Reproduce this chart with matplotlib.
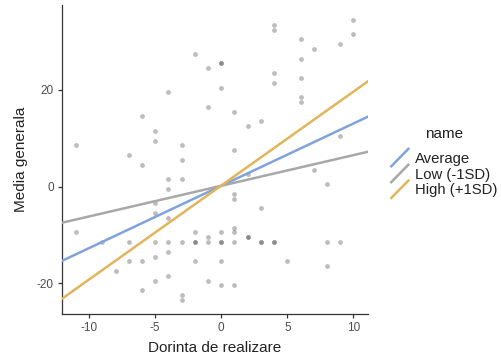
"""
Moderation plot: Media generala vs Dorinta de realizare, with simple slopes.
"""

import matplotlib
matplotlib.use("Agg")
import matplotlib.pyplot as plt
from matplotlib.lines import Line2D
from matplotlib.legend_handler import HandlerBase


# raw observations (x = Dorinta de realizare, y = Media generala)
X_VALUES = [
    -11, -6, -5, -5, -7, -4,
    -2, 0, 0, -1, 0, -1, 1, 2, 3, -3, 1, -3,
    4, 4, 6, 10, 10, 9, 7, 6, 4, 4, 6, 6, 6, 9,
    -6, -4, -4, -5, -5, -11, -9, -7, -5, -4, -7, -6, -5, -8, -5, -6, -4,
    -3, 2, 1, 1, 3, -4, -2, -1, 0, 1, 1, -4, -3, -2, -2, -1, 0, 0, 1,
    2, 2, 3, 3, -2, 0, -1, 0, 1, -3, -3,
    7, 8, 4, 4, 8, 9, 5, 8,
]
Y_VALUES = [
    8.5, 14.5, 11.5, 9.5, 6.5, 19.5,
    27.5, 25.5, 25.5, 24.5, 20.5, 16.5, 15.5, 12.5, 13.5, 8.5, 7.5, 5.5,
    33.5, 32.5, 30.5, 34.5, 31.5, 29.5, 28.5, 26.5, 23.5, 21.5, 22.5, 18.5, 17.5, 10.5,
    4.5, 1.5, -0.5, -3.5, -5.5, -9.5, -11.5, -11.5, -11.5, -13.5, -15.5, -15.5, -14.5,
    -17.5, -19.5, -21.5, -18.5,
    1.5, 2.5, -1.5, -2.5, -4.5, -6.5, -9.5, -10.5, -9.5, -8.5, -9.5, -11.5, -11.5,
    -11.5, -11.5, -11.5, -11.5, -11.5, -11.5,
    -10.5, -10.5, -11.5, -11.5, -15.5, -15.5, -19.5, -20.5, -20.5, -22.5, -23.5,
    3.5, 0.5, -11.5, -11.5, -11.5, -11.5, -15.5, -16.5,
]

# simple slopes of the moderator levels
LINE_NAMES = ["Average", "Low (-1SD)", "High (+1SD)"]
LINE_SLOPES = [1.29, 0.635, 1.945]
LINE_INTERCEPTS = [0.15, 0.15, 0.2]
LINE_COLORS = ["#80A3DC", "#A8A8A8", "#E2B55C"]


class DiagonalKey(HandlerBase):
    """ggplot-style diagonal legend key for abline layers."""

    def create_artists(self, legend, orig_handle, xdescent, ydescent,
                       width, height, fontsize, trans):
        line = Line2D([-xdescent, -xdescent + width],
                      [-ydescent - 2, -ydescent + height + 2],
                      color=orig_handle.get_color(),
                      linewidth=orig_handle.get_linewidth(),
                      transform=trans)
        return [line]


def main():
    plt.rcParams["font.family"] = ["Liberation Sans", "DejaVu Sans"]
    plt.rcParams["axes.unicode_minus"] = False

    fig = plt.figure(figsize=(5.01, 3.64), dpi=100)
    ax = fig.add_axes([0.1238, 0.1374, 0.6107, 0.849])

    ax.scatter(X_VALUES, Y_VALUES, s=12, color="black", alpha=0.26,
               linewidths=0, zorder=2)

    handles = []
    for name, slope, icpt, color in zip(LINE_NAMES, LINE_SLOPES,
                                        LINE_INTERCEPTS, LINE_COLORS):
        ax.axline((0, icpt), slope=slope, color=color, linewidth=1.8,
                  zorder=3)
        handles.append(Line2D([], [], color=color, linewidth=1.8,
                              label=name))

    ax.set_xlim(-12.05, 11.1)
    ax.set_ylim(-26.4, 37.6)
    ax.set_xticks([-10, -5, 0, 5, 10])
    ax.set_yticks([-20, 0, 20])

    for side in ["top", "right"]:
        ax.spines[side].set_visible(False)
    for side in ["left", "bottom"]:
        ax.spines[side].set_color("#333333")
        ax.spines[side].set_linewidth(0.9)
    ax.tick_params(length=3, width=0.9, color="#333333",
                   labelsize=8.5, labelcolor="#4D4D4D", pad=3)

    ax.set_xlabel("Dorinta de realizare", fontsize=11, color="#222222",
                  labelpad=5)
    ax.set_ylabel("Media generala", fontsize=11, color="#222222",
                  labelpad=6)

    leg = fig.legend(handles=handles, title="name",
                     handler_map={Line2D: DiagonalKey()},
                     loc="center left", bbox_to_anchor=(0.781, 0.555),
                     frameon=False, fontsize=10.7, title_fontsize=11,
                     handlelength=1.15, handleheight=0.85,
                     handletextpad=0.45, labelspacing=0.12,
                     borderpad=0, borderaxespad=0)
    # a bit more room between the title and the keys
    leg._legend_box.sep = 8
    leg.get_title().set_color("#222222")
    for txt in leg.get_texts():
        txt.set_color("#222222")

    fig.savefig("out.png", dpi=100)


if __name__ == "__main__":
    main()
